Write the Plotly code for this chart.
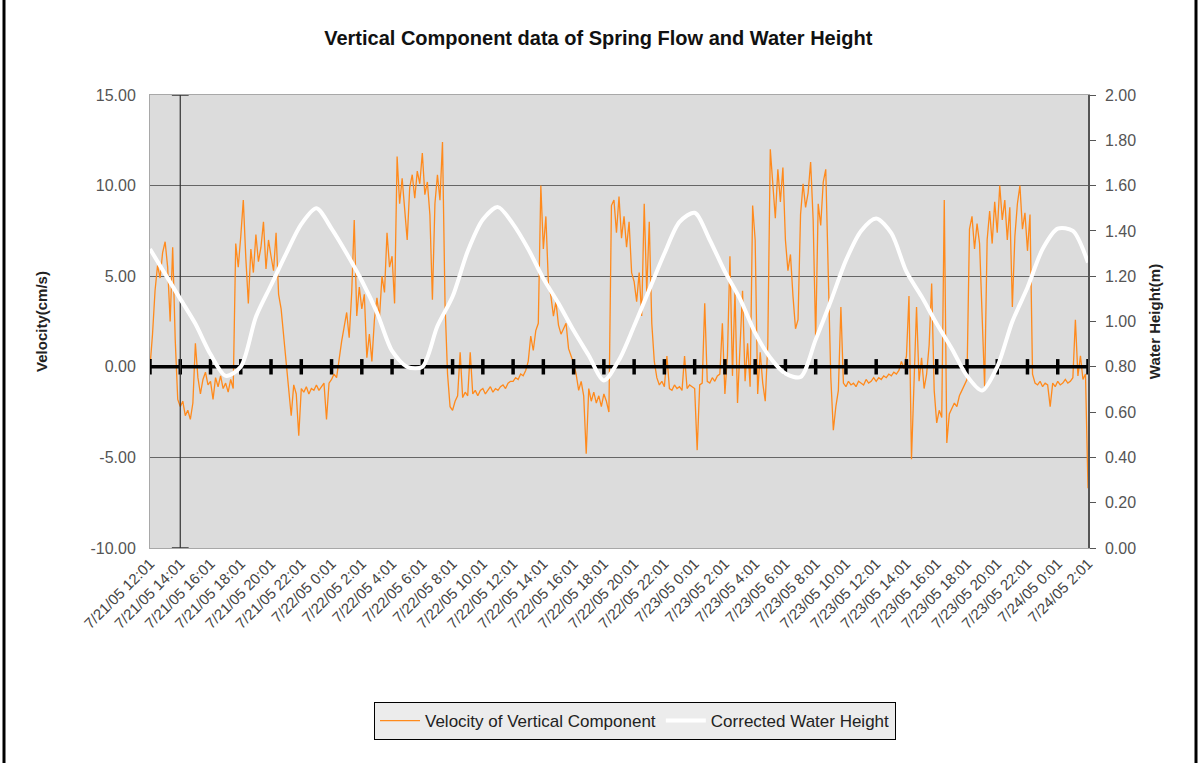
import pandas as pd
import plotly.graph_objects as go

# x categories: readings start 7/21/05 12:01, one tick label every 2 hours
START = pd.Timestamp("2005-07-21 12:01")
tick_labels = [
    "7/21/05 12:01", "7/21/05 14:01", "7/21/05 16:01", "7/21/05 18:01",
    "7/21/05 20:01", "7/21/05 22:01", "7/22/05 0:01", "7/22/05 2:01",
    "7/22/05 4:01", "7/22/05 6:01", "7/22/05 8:01", "7/22/05 10:01",
    "7/22/05 12:01", "7/22/05 14:01", "7/22/05 16:01", "7/22/05 18:01",
    "7/22/05 20:01", "7/22/05 22:01", "7/23/05 0:01", "7/23/05 2:01",
    "7/23/05 4:01", "7/23/05 6:01", "7/23/05 8:01", "7/23/05 10:01",
    "7/23/05 12:01", "7/23/05 14:01", "7/23/05 16:01", "7/23/05 18:01",
    "7/23/05 20:01", "7/23/05 22:01", "7/24/05 0:01", "7/24/05 2:01",
]
vel_ticks = [-10, -5, 0, 5, 10, 15]
vel_tick_text = ["-10.00", "-5.00", "0.00", "5.00", "10.00", "15.00"]

# velocity of vertical component (cm/s), one reading every 10 minutes
velocity = [
    0.0, 1.8, 4.2, 5.6, 4.9, 6.3,        6.9, 5.5, 2.5, 6.6, 1.5, -1.8,
    -2.2, -1.9, -2.7, -2.4, -2.9, -2.0,  1.3, -0.6, -1.5, -0.7, -0.3, -1.0,
    -0.8, -1.8, -0.6, -1.1, -0.5, -1.2,  -0.9, -1.4, -0.7, -1.2, 6.8, 5.5,
    7.2, 9.2, 6.0, 3.5, 6.5, 5.2,        7.3, 5.8, 6.6, 8.0, 5.4, 7.0,
    6.1, 5.3, 7.4, 4.0, 3.2, 1.8,        0.2, -1.4, -2.7, -1.0, -1.5, -3.8,
    -1.2, -1.4, -1.1, -1.5, -1.2, -1.3,  -1.0, -1.3, -1.1, -0.9, -2.9, -0.9,
    -0.7, -0.4, -0.6, 0.5, 1.4, 2.2,     3.0, 1.6, 4.1, 8.1, 2.8, 4.4,
    3.2, 4.0, 0.5, 1.8, 0.3, 2.6,        3.8, 2.7, 5.0, 4.1, 7.4, 5.5,
    6.1, 3.5, 11.6, 9.0, 10.4, 8.7,      7.0, 9.9, 10.6, 9.3, 10.8, 10.1,
    11.8, 9.5, 10.2, 8.4, 3.7, 9.0,      10.6, 9.2, 12.4, 3.5, -0.4, -2.2,
    -2.4, -1.9, -1.6, 0.8, -1.7, -1.4,   -1.6, 0.8, -1.5, -1.3, -1.6, -1.3,
    -1.2, -1.5, -1.3, -1.1, -1.4, -1.2,  -1.3, -1.1, -1.0, -1.2, -0.9, -0.8,
    -0.8, -0.6, -0.7, -0.4, -0.5, -0.2,  0.3, 1.7, 0.9, 2.0, 2.4, 10.0,
    6.5, 8.3, 4.6, 3.9, 2.8, 3.6,        2.3, 1.8, 2.1, 2.4, 1.0, 0.6,
    0.2, -0.4, -1.3, -0.8, -1.6, -4.8,   -1.2, -1.9, -1.4, -2.0, -1.6, -2.2,
    -1.5, -1.9, -2.5, 8.9, 9.2, 7.4,     9.4, 7.1, 8.3, 6.6, 8.0, 5.2,
    4.7, 3.6, 5.2, 2.8, 9.0, 4.1,        8.0, 2.4, 0.3, -0.6, -1.0, -0.8,
    -1.1, 0.6, -1.2, -1.3, -1.0, -1.2,   -1.1, -1.3, 0.6, -1.2, -1.0, -1.1,
    -1.2, -4.6, -1.0, -0.9, 3.5, -0.8,   -0.9, -0.6, -0.8, -0.5, -0.4, 2.4,
    -1.5, 0.6, 6.1, -0.5, 4.2, -2.0,     0.9, 4.2, -0.8, 1.3, -1.1, 8.9,
    7.0, -1.5, 0.8, -0.9, -1.9, 1.2,     12.0, 10.3, 8.2, 10.9, 9.1, 11.0,
    7.0, 5.3, 6.2, 3.9, 2.1, 2.6,        8.4, 10.1, 8.8, 9.6, 11.3, 8.1,
    1.5, 9.0, 7.8, 10.2, 10.9, 5.1,      -0.6, -3.5, -2.2, -1.3, 3.3, -0.9,
    -1.1, -0.8, -1.0, -0.9, -1.1, -0.8,  -0.9, -1.0, -0.7, -0.9, -0.8, -0.6,
    -0.8, -0.6, -0.7, -0.5, -0.6, -0.4,  -0.5, -0.3, -0.4, -0.2, 0.3, -0.1,
    0.6, 3.9, -5.1, -0.4, 3.3, -0.8,     0.5, -1.2, -0.4, 1.2, 4.6, -1.3,
    -3.1, -2.4, -2.8, 9.2, -4.2, -2.6,   -2.3, -2.0, -2.2, -1.6, -1.3, -1.0,
    -0.7, 7.6, 8.3, 6.5, 7.9, 6.8,       2.4, -1.1, 7.0, 8.6, 6.8, 9.1,
    7.4, 10.0, 8.1, 9.2, 7.0, 8.8,       3.3, 7.2, 9.0, 10.0, 7.6, 8.5,
    6.4, 8.4, -0.4, -0.9, -1.0, -0.8,    -1.1, -0.9, -1.0, -2.2, -0.9, -1.1,
    -0.8, -1.0, -0.9, -0.7, -0.9, -0.8,  -0.6, 2.6, -0.5, 0.6, -0.7, -0.4,
    -6.7,
]

# corrected water height (m), hourly
water_height = [
    1.32, 1.21, 1.10, 0.99, 0.855, 0.76, 0.80, 1.02, 1.16, 1.30,
    1.43, 1.50, 1.41, 1.30, 1.18, 1.04, 0.87, 0.80, 0.80, 0.98,
    1.11, 1.31, 1.45, 1.505, 1.43, 1.32, 1.19, 1.08, 0.96, 0.85,
    0.74, 0.83, 0.98, 1.14, 1.30, 1.44, 1.48, 1.36, 1.22, 1.10,
    0.95, 0.84, 0.77, 0.755, 0.92, 1.09, 1.27, 1.40, 1.455, 1.39,
    1.22, 1.11, 0.99, 0.88, 0.76, 0.695, 0.80, 1.00, 1.15, 1.32,
    1.41, 1.40, 1.26,
]

vel_times = pd.date_range(START, periods=len(velocity), freq="10min")
wh_times = pd.date_range(START, periods=len(water_height), freq="h")
tick_times = pd.date_range(START, periods=len(tick_labels), freq="2h")
x_end = tick_times[-1]

FONT = "Arial, Liberation Sans, sans-serif"
W, H = 1199, 763
ML, MR, MT, MB = 150, 111, 95, 215

fig = go.Figure()

fig.add_trace(go.Scatter(
    x=vel_times, y=velocity, mode="lines",
    name="Velocity of Vertical Component",
    line=dict(color="#FF8A1C", width=1.3),
))

# category axis drawn across at 0 with its tick marks
fig.add_trace(go.Scatter(
    x=tick_times, y=[0] * len(tick_times), mode="lines+markers",
    line=dict(color="black", width=3.5),
    marker=dict(symbol="line-ns", size=11, line=dict(color="black", width=3.5)),
    showlegend=False, hoverinfo="skip",
))

# stray vertical rule at 7/21/05 14:01
fig.add_trace(go.Scatter(
    x=[tick_times[1], tick_times[1]], y=[-10, 15], mode="lines+markers",
    line=dict(color="#333333", width=1.2),
    marker=dict(symbol="line-ew", size=12, line=dict(color="#333333", width=1.5)),
    showlegend=False, hoverinfo="skip",
))

fig.add_trace(go.Scatter(
    x=wh_times, y=water_height, mode="lines", yaxis="y2",
    name="Corrected Water Height",
    line=dict(color="white", width=4, shape="spline", smoothing=0.8),
))

fig.update_layout(
    width=W, height=H,
    margin=dict(l=ML, r=MR, t=MT, b=MB),
    paper_bgcolor="white",
    plot_bgcolor="#dcdcdc",
    font=dict(family=FONT, color="#555555"),
    hovermode=False,
    title=dict(
        text="<b>Vertical Component data of Spring Flow and Water Height</b>",
        x=0.499, xanchor="center", y=1 - 38 / H, yanchor="middle",
        font=dict(size=20, color="#111111", family=FONT),
    ),
    xaxis=dict(
        type="date", range=[START, x_end],
        tickvals=tick_times, ticktext=tick_labels, tickangle=-45,
        tickfont=dict(size=15, color="#444444"),
        showgrid=False, zeroline=False, ticks="",
        showline=True, linecolor="#a8a8a8", linewidth=1, mirror=True,
    ),
    yaxis=dict(
        range=[-10, 15], tickvals=vel_ticks, ticktext=vel_tick_text,
        tickfont=dict(size=16, color="#555555"),
        showgrid=True, gridcolor="#666666", gridwidth=1.2, zeroline=False,
        ticks="outside", ticklen=10, tickcolor="rgba(0,0,0,0)",
        showline=True, linecolor="#a8a8a8", linewidth=1,
        title=dict(text="<b>Velocity(cm/s)</b>", standoff=39,
                   font=dict(size=15, color="#222222")),
    ),
    yaxis2=dict(
        overlaying="y", side="right", range=[0, 2], dtick=0.2, tick0=0,
        tickformat=".2f", tickfont=dict(size=16, color="#555555"),
        showgrid=False, zeroline=False,
        ticks="outside", ticklen=6, tickcolor="#555555", tickwidth=1.2,
        ticklabelstandoff=6,
        showline=True, linecolor="#555555", linewidth=1.5,
        title=dict(text="<b>Water Height(m)</b>", standoff=14,
                   font=dict(size=15, color="#222222")),
    ),
    yaxis3=dict(
        overlaying="y", side="right", range=[0, 2], dtick=0.2, tick0=0,
        showticklabels=False, showgrid=False, zeroline=False,
        ticks="inside", ticklen=6, tickcolor="#555555", tickwidth=1.2,
    ),
    legend=dict(
        orientation="h", x=(635 - ML) / (W - ML - MR), xanchor="center",
        y=(H - MB - 721) / (H - MT - MB), yanchor="middle",
        bgcolor="#ececec", bordercolor="black", borderwidth=1,
        font=dict(size=17, color="#222222", family=FONT),
        itemwidth=40,
    ),
    showlegend=True,
)

# black frame lines at the left and right of the page
pw = W - ML - MR
ph = H - MT - MB
for px in (4, 1196):
    fig.add_shape(
        type="line", xref="paper", yref="paper",
        x0=(px - ML) / pw, x1=(px - ML) / pw,
        y0=-(MB / ph), y1=1 + MT / ph,
        line=dict(color="black", width=3),
    )

fig.write_html("out.html", config={"displayModeBar": False},
               post_script="document.body.style.margin='0';")
